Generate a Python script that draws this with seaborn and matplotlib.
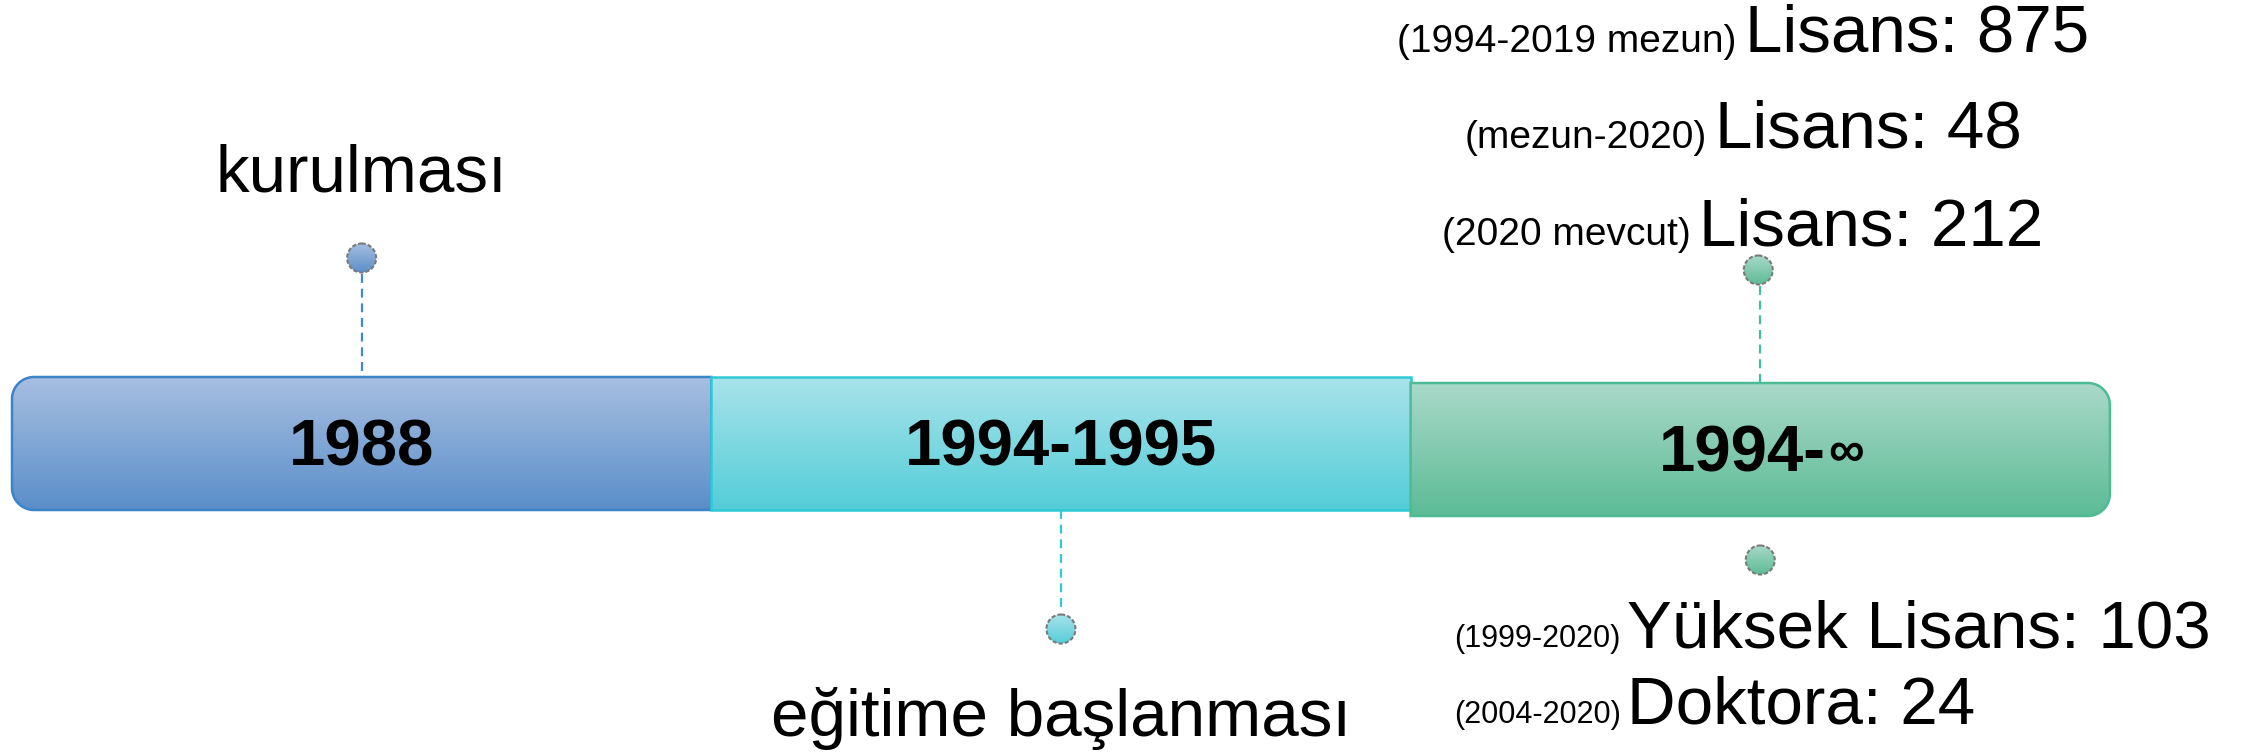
import numpy as np
import seaborn as sns
import matplotlib.pyplot as plt
from matplotlib.patches import Polygon, Circle

# Timeline content
periods = ["1988", "1994-1995", "1994-"]
period_suffix = ["", "", "\u221e"]
events = ["kurulması", "eğitime başlanması"]
lisans_notes = ["(1994-2019 mezun)", "(mezun-2020)", "(2020 mevcut)"]
lisans_counts = [875, 48, 212]
grad_notes = ["(1999-2020)", "(2004-2020)"]
grad_labels = ["Yüksek Lisans", "Doktora"]
grad_counts = [103, 24]

# gradient colours (top, bottom) and edge colour for each period
grad_top = ["#a7bfe1", "#a9e3ea", "#a9d9c9"]
grad_bottom = ["#5a8ec9", "#53cdd8", "#5cbb96"]
edge_colors = ["#3b84c8", "#2fcad7", "#4dbb95"]
line_colors = ["#3b8ad2", "#2ecad8", "#3fc0a0"]

sns.set_theme(style="white")
plt.rcParams['font.family'] = ['Liberation Sans', 'DejaVu Sans']

W, H = 2255, 754
fig = plt.figure(figsize=(W / 100, H / 100), dpi=100)
ax = fig.add_axes([0, 0, 1, 1])
ax.set_axis_off()
ax.set_xlim(0, W)
ax.set_ylim(H, 0)
renderer = fig.canvas.get_renderer()

bar_left, seg_w = 12, 699.3
bar_tops = [377, 377, 383]
bar_h = 133
radius = 22


def side_rounded(x0, y0, x1, y1, r, left, right):
    """polygon points of a box with rounded corners on chosen sides (y grows down)"""
    def arc(cx, cy, a0, a1):
        a = np.radians(np.linspace(a0, a1, 20))
        return list(zip(cx + r * np.cos(a), cy + r * np.sin(a)))
    pts = []
    pts += arc(x0 + r, y0 + r, 180, 270) if left else [(x0, y0)]
    pts += arc(x1 - r, y0 + r, 270, 360) if right else [(x1, y0)]
    pts += arc(x1 - r, y1 - r, 0, 90) if right else [(x1, y1)]
    pts += arc(x0 + r, y1 - r, 90, 180) if left else [(x0, y1)]
    return pts


def gradient_fill(patch, extent, top, bottom):
    cmap = sns.blend_palette([top, bottom], as_cmap=True)
    im = ax.imshow(np.linspace(0, 1, 256).reshape(-1, 1), cmap=cmap, extent=extent,
                   aspect='auto', origin='upper', zorder=patch.get_zorder() - 0.1)
    im.set_clip_path(patch)


centers = []
n = len(periods)
for i, label in enumerate(periods):
    x0 = bar_left + i * seg_w
    x1 = x0 + seg_w
    y0 = bar_tops[i]
    y1 = y0 + bar_h
    pts = side_rounded(x0, y0, x1, y1, radius, left=(i == 0), right=(i == n - 1))
    patch = Polygon(pts, closed=True, facecolor='none', edgecolor=edge_colors[i],
                    linewidth=1.8, zorder=2 + i)
    ax.add_patch(patch)
    gradient_fill(patch, (x0, x1, y1, y0), grad_top[i], grad_bottom[i])
    cx = (x0 + x1) / 2
    centers.append(cx)
    main = ax.text(cx, y0 + 89, label, ha='left', va='baseline', fontsize=47,
                   fontweight='bold', color='black', zorder=10)
    if period_suffix[i]:
        # smaller infinity sign after the year
        suf = ax.text(cx, y0 + 83, period_suffix[i], ha='left', va='baseline', fontsize=36,
                      fontweight='bold', color='black', zorder=10)
        wm = main.get_window_extent(renderer).width
        ws = suf.get_window_extent(renderer).width
        main.set_x(cx - (wm + ws) / 2)
        suf.set_x(cx - (wm + ws) / 2 + wm + 2)
    else:
        main.set_ha('center')


def marker(cx, cy, i):
    c = Circle((cx, cy), 14.5, facecolor='none', edgecolor='#7a7a7a', linewidth=1.5,
               linestyle=(0, (2, 1)), zorder=6)
    ax.add_patch(c)
    gradient_fill(c, (cx - 15, cx + 15, cy + 15, cy - 15), grad_top[i], grad_bottom[i])


dash = (0, (4, 2.6))

# 1988 - above
ax.plot([centers[0]] * 2, [274, bar_tops[0]], color=line_colors[0], lw=1.6, ls=dash, zorder=1)
marker(centers[0], 258, 0)
ax.text(centers[0], 192, events[0], ha='center', va='baseline', fontsize=48.5, color='black')

# 1994-1995 - below
ax.plot([centers[1]] * 2, [bar_tops[1] + bar_h, 607], color=line_colors[1], lw=1.6, ls=dash, zorder=1)
marker(centers[1], 629, 1)
ax.text(centers[1], 736, events[1], ha='center', va='baseline', fontsize=48.5, color='black')

# 1994-inf - above and below
ax.plot([centers[2]] * 2, [286, bar_tops[2]], color=line_colors[2], lw=1.6, ls=dash, zorder=1)
marker(centers[2] - 2, 270, 2)
marker(centers[2], 560, 2)

# undergraduate counts, each line centred as a whole
top_center = 1743
gap = 8
for note, count, base in zip(lisans_notes, lisans_counts, [52, 148, 245]):
    small = ax.text(0, base, note, ha='left', va='baseline', fontsize=28, color='black')
    big = ax.text(0, base, f"Lisans: {count}", ha='left', va='baseline', fontsize=48.5, color='black')
    ws = small.get_window_extent(renderer).width
    wb = big.get_window_extent(renderer).width
    start = top_center - (ws + gap + wb) / 2
    small.set_x(start)
    big.set_x(start + ws + gap)

# graduate counts
for note, label, count, base in zip(grad_notes, grad_labels, grad_counts, [647, 723]):
    ax.text(1621, base, note, ha='right', va='baseline', fontsize=22, color='black')
    ax.text(1627, base, f"{label}: {count}", ha='left', va='baseline', fontsize=48.5, color='black')

ax.set_xlim(0, W)
ax.set_ylim(H, 0)
fig.savefig('out.png', dpi=100)
